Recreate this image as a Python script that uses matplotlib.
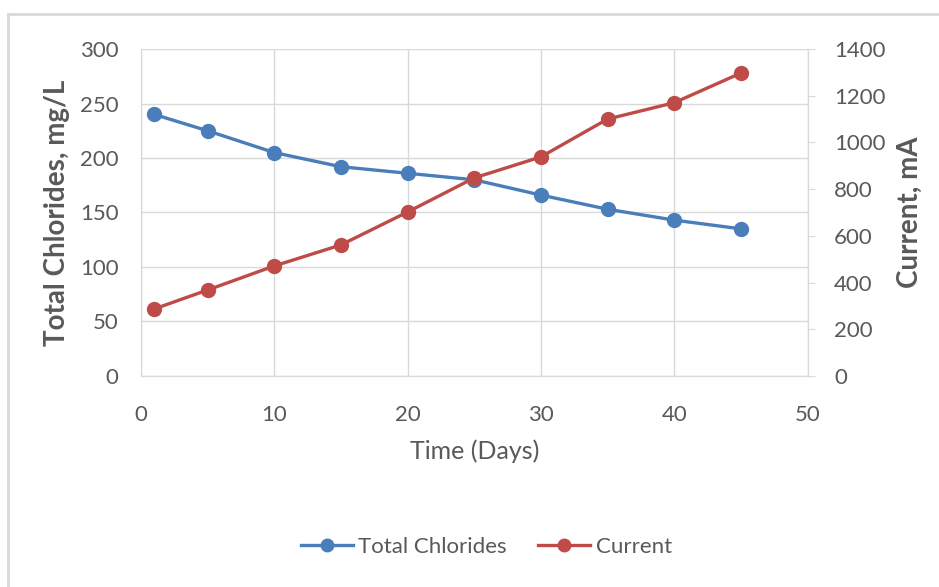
import matplotlib.pyplot as plt
from matplotlib.lines import Line2D

# dados
days = [1, 5, 10, 15, 20, 25, 30, 35, 40, 45]
chlorides = [240, 225, 205, 192, 186, 180, 166, 153, 143, 135]
current = [287, 368, 471, 561, 702, 848, 938, 1100, 1170, 1297]

plt.rcParams['font.family'] = ['Lato', 'DejaVu Sans']

blue = '#4a7ebb'
red = '#be4b48'
gray = '#595959'
grid = '#d9d9d9'

fig = plt.figure(figsize=(9.39, 5.87), dpi=100)
ax = fig.add_axes([0.150, 0.3595, 0.710, 0.557])
ax2 = ax.twinx()

ax.plot(days, chlorides, '-o', color=blue, lw=2.4, ms=10, zorder=3)
ax2.plot(days, current, '-o', color=red, lw=2.4, ms=10, zorder=3)

ax.set_xlim(0, 50)
ax.set_ylim(0, 300)
ax2.set_ylim(0, 1400)
ax.set_xticks(range(0, 51, 10))
ax.set_yticks(range(0, 301, 50))
ax2.set_yticks(range(0, 1401, 200))

ax.grid(True, color=grid, lw=1)
ax.set_axisbelow(True)

for a in (ax, ax2):
    for s in a.spines.values():
        s.set_color(grid)
    a.tick_params(colors=gray, labelsize=16, length=0)
ax.spines['top'].set_visible(False)
ax2.spines['top'].set_visible(False)
ax.tick_params(axis='x', pad=21)
ax.tick_params(axis='y', pad=16)
ax2.tick_params(axis='y', length=5, color=grid, direction='out', pad=14)

ax.set_xlabel('Time (Days)', fontsize=18, color=gray, labelpad=10)
ax.set_ylabel('Total Chlorides, mg/L', fontsize=20, color=gray, fontweight='bold', labelpad=7)
ax2.set_ylabel('Current, mA', fontsize=20, color=gray, fontweight='bold', labelpad=8)

handles = [Line2D([], [], color=blue, marker='o', lw=2.4, ms=9),
           Line2D([], [], color=red, marker='o', lw=2.4, ms=9)]
fig.legend(handles, ['Total Chlorides', 'Current'], loc='center', bbox_to_anchor=(0.518, 0.068),
           ncol=2, frameon=False, fontsize=16, labelcolor=gray, handlelength=2.35,
           columnspacing=1.4, handletextpad=0.25)

# borda do grafico (so topo e lado esquerdo aparecem)
fig.add_artist(Line2D([0.0085, 1.0], [0.976, 0.976], transform=fig.transFigure, color=grid, lw=2))
fig.add_artist(Line2D([0.0085, 0.0085], [0.0, 0.976], transform=fig.transFigure, color=grid, lw=2))

fig.savefig('out.png', dpi=100, facecolor='white')
